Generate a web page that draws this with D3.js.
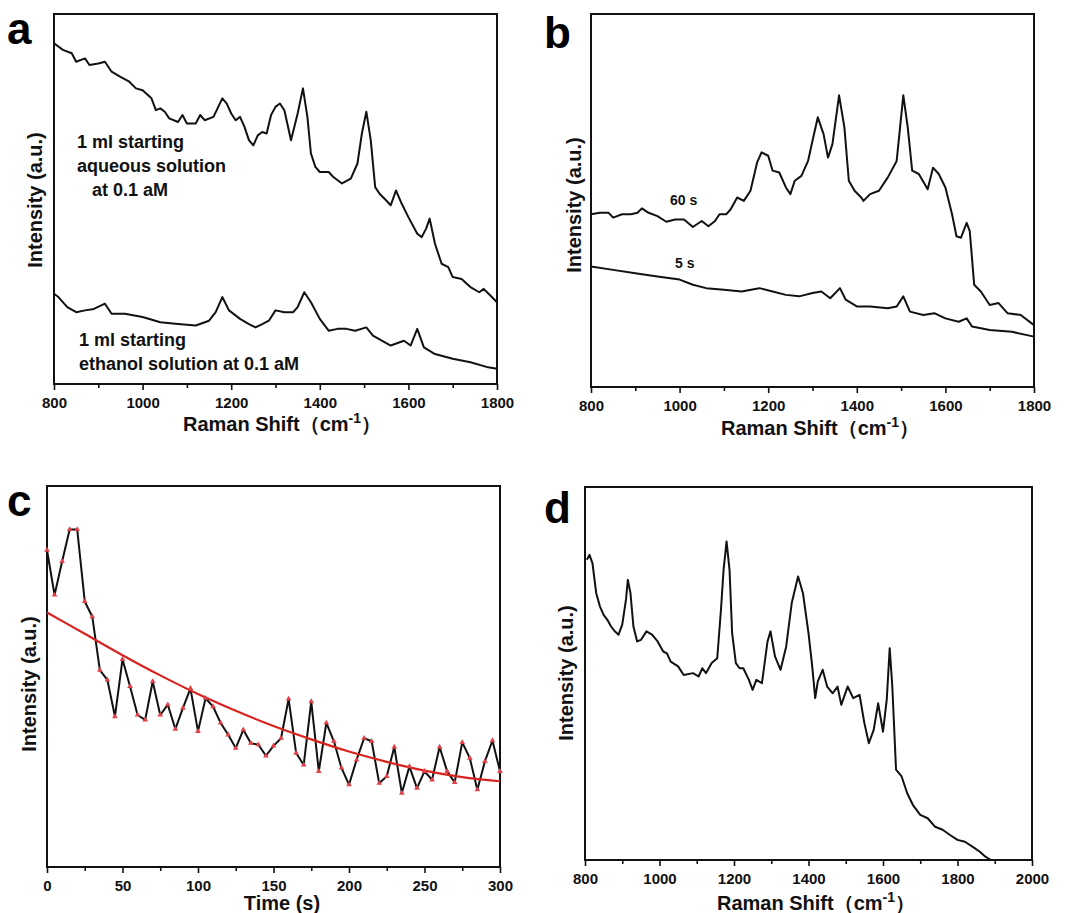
<!DOCTYPE html>
<html><head><meta charset="utf-8">
<script src="https://cdn.jsdelivr.net/npm/d3@7"></script>
<style>body{margin:0;background:#fff}svg{display:block}</style>
</head><body>
<svg id="chart" width="1069" height="913"></svg>
<script>
// ---------- Panel a: Raman spectra, aqueous vs ethanol ----------
const aAqX = [800,820,840,850,870,880,900,915,930,950,970,985,1000,1020,1030,1040,1050,1060,1080,1090,1100,1120,1130,1140,1160,1180,1190,1200,1210,1220,1230,1240,1250,1260,1270,1280,1290,1300,1310,1320,1335,1350,1362,1372,1380,1390,1400,1420,1430,1450,1470,1485,1495,1505,1515,1525,1535,1550,1560,1572,1585,1600,1620,1630,1640,1648,1660,1675,1690,1700,1720,1740,1760,1770,1785,1800];
const aAqY = [92.1,90.3,89.4,87.1,88.0,86.2,86.6,87.1,84.4,83.0,81.7,79.9,79.4,77.2,74.0,74.5,73.6,71.8,70.8,72.7,70.4,70.4,72.7,71.3,72.2,77.2,75.8,73.1,71.3,72.2,69.5,65.9,64.5,67.2,68.1,67.7,72.7,74.9,75.8,74.0,65.9,73.1,79.9,72.2,62.3,58.7,57.3,57.3,56.0,54.2,55.5,59.6,67.7,73.6,65.9,53.2,51.4,49.6,48.3,52.3,48.7,45.1,40.6,39.7,42.0,44.7,37.9,32.5,31.6,28.9,28.4,26.2,24.8,25.7,23.9,22.1];
const aEtX = [800,810,830,850,870,890,915,930,960,1000,1040,1080,1120,1150,1165,1180,1195,1220,1240,1255,1270,1285,1300,1320,1340,1350,1365,1380,1400,1420,1440,1460,1480,1505,1520,1540,1560,1590,1605,1620,1635,1660,1700,1740,1780,1800];
const aEtY = [24.4,23.5,20.8,19.4,19.9,20.3,21.7,19.0,19.0,18.1,16.7,16.2,15.8,17.1,19.4,23.5,19.9,17.6,16.2,15.3,16.2,17.1,19.9,19.4,19.4,20.8,24.8,22.1,17.6,14.4,14.9,14.9,14.4,15.3,13.1,11.7,10.4,11.7,10.4,14.9,9.9,8.1,6.8,5.9,4.5,4.1];
const aLabels = [["1 ml starting", "aqueous solution", "   at 0.1 aM"], ["1 ml starting", "ethanol solution at 0.1 aM"]];

// ---------- Panel b: 60 s vs 5 s ----------
const b60X = [800,820,840,850,870,890,905,915,930,950,970,990,1010,1030,1050,1065,1080,1090,1105,1115,1130,1145,1160,1175,1185,1200,1210,1225,1240,1250,1260,1275,1290,1300,1312,1325,1335,1345,1360,1372,1382,1395,1410,1415,1430,1450,1470,1490,1505,1515,1525,1540,1560,1572,1585,1600,1615,1625,1635,1648,1655,1665,1680,1700,1720,1740,1770,1800];
const b60Y = [46.3,46.7,46.7,45.4,46.3,46.3,46.7,47.9,46.7,45.8,44.3,44.9,44.9,42.9,44.5,43.1,44.5,46.3,46.3,47.6,50.8,49.9,52.6,60.2,62.9,62.0,58.0,57.5,53.5,51.7,55.3,56.6,60.6,66.0,72.3,67.8,61.5,65.1,78.2,69.6,55.3,52.6,50.8,49.9,51.7,52.6,56.2,60.6,78.2,69.6,58.0,57.1,53.0,58.8,57.1,53.5,46.3,40.4,40.0,44.0,41.8,27.4,25.6,22.0,22.5,19.8,19.3,16.6];
const b5X = [800,850,900,950,1000,1030,1060,1100,1140,1180,1210,1240,1270,1300,1320,1340,1362,1375,1400,1430,1470,1490,1505,1520,1550,1575,1600,1630,1648,1660,1700,1750,1800];
const b5Y = [32.3,31.4,30.5,29.6,28.8,27.4,26.5,26.1,25.6,26.5,25.6,24.7,24.3,25.2,25.6,23.8,26.5,23.4,21.6,21.6,21.1,21.6,24.3,20.2,19.3,19.8,18.4,17.5,18.4,16.2,15.3,14.8,13.5];
const bLabels = ["60 s", "5 s"];

// ---------- Panel c: intensity vs time ----------
const cTime = [0,5,10,15,20,25,30,35,40,45,50,55,60,65,70,75,80,85,90,95,100,105,110,115,120,125,130,135,140,145,150,155,160,165,170,175,180,185,190,195,200,205,210,215,220,225,230,235,240,245,250,255,260,265,270,275,280,285,290,295,300];
const cInt = [83.2,71.4,80.2,88.6,88.6,69.7,65.7,51.7,49.1,39.5,54.5,47.4,39.9,38.6,48.7,39.9,42.6,36.2,41.7,46.9,35.6,44.3,42.1,37.8,34.7,31.2,36.0,32.5,32.1,29.2,31.8,33.8,44.1,29.9,26.8,43.4,25.1,37.8,33.0,26.0,21.6,28.1,33.8,33.0,22.0,23.8,31.5,19.4,26.4,20.7,25.1,22.9,31.5,25.1,22.2,32.7,28.6,20.3,27.7,33.2,25.1];
const cFitT = [0,25,50,75,100,125,150,175,200,225,250,275,300];
const cFitY = [66.8,61.2,55.6,50.3,45.4,41.0,37.0,33.5,30.3,27.6,25.3,23.6,22.5];

// ---------- Panel d: single spectrum ----------
const dX = [805,812,820,830,840,850,860,870,880,890,900,910,915,922,930,940,950,965,980,995,1010,1020,1030,1050,1065,1090,1105,1115,1125,1140,1155,1165,1172,1180,1188,1195,1205,1215,1225,1240,1250,1260,1275,1290,1298,1310,1325,1340,1355,1372,1385,1400,1410,1418,1425,1438,1450,1465,1478,1488,1505,1520,1537,1550,1562,1575,1587,1600,1610,1618,1625,1635,1650,1665,1680,1700,1720,1740,1760,1780,1800,1820,1840,1860,1875,1890];
const dY = [80.5,81.8,79.6,71.6,68.0,65.7,64.4,62.6,61.3,60.4,63.1,69.8,75.1,71.6,62.6,58.6,59.0,61.3,60.4,58.6,55.9,55.4,53.2,51.9,49.6,50.1,49.2,51.4,50.1,52.8,54.1,67.1,77.8,85.4,77.8,60.8,52.8,51.4,51.4,48.3,45.6,48.3,47.4,58.6,61.3,54.6,51.0,57.2,68.9,76.0,71.6,60.8,51.9,43.4,47.9,51.0,46.5,44.7,46.5,41.6,46.5,43.4,44.3,36.7,31.3,34.9,42.0,34.4,42.9,56.8,46.5,24.2,22.4,17.9,14.8,12.1,11.2,8.9,8.1,6.7,5.4,4.9,3.6,2.2,0.9,0.0];

// ---------- Axis ticks ----------
const ramanTicksAB = [800,1000,1200,1400,1600,1800];
const ramanMinorAB = [900,1100,1300,1500,1700];
const timeTicks = [0,50,100,150,200,250,300];
const timeMinor = [25,75,125,175,225,275];
const ramanTicksD = [800,1000,1200,1400,1600,1800,2000];
const ramanMinorD = [900,1100,1300,1500,1700,1900];

const FONT = "'Liberation Sans', Arial, Helvetica, sans-serif";
const svg = d3.select("#chart");

function panel(o) {
  const g = svg.append("g");
  const x = d3.scaleLinear().domain(o.xDomain).range([o.left, o.right]);
  const y = d3.scaleLinear().domain([0, 100]).range([o.bottom, o.top]);

  g.append("g").attr("transform", `translate(0,${o.bottom})`)
    .call(d3.axisBottom(x).tickValues(o.minor).tickSize(4).tickFormat(""))
    .call(s => s.select(".domain").remove())
    .call(s => s.selectAll("line").attr("stroke", "#111").attr("stroke-width", 1.6));
  g.append("g").attr("transform", `translate(0,${o.bottom})`)
    .call(d3.axisBottom(x).tickValues(o.ticks).tickSize(6).tickPadding(7).tickFormat(d3.format("d")))
    .call(s => s.select(".domain").remove())
    .call(s => s.selectAll("line").attr("stroke", "#111").attr("stroke-width", 1.6))
    .call(s => s.selectAll("text").attr("fill", "#111").attr("font-family", FONT)
      .attr("font-weight", "bold").attr("font-size", 15));

  g.append("rect").attr("x", o.left).attr("y", o.top)
    .attr("width", o.right - o.left).attr("height", o.bottom - o.top)
    .attr("fill", "none").attr("stroke", "#111").attr("stroke-width", 2);

  g.append("text").attr("x", o.letterX).attr("y", o.letterY).text(o.letter)
    .attr("font-family", FONT).attr("font-weight", "bold").attr("font-size", 44).attr("fill", "#000");

  g.append("text").attr("transform", `translate(${o.yTitleX},${o.yTitleY}) rotate(-90)`)
    .attr("text-anchor", "middle").attr("dominant-baseline", "central")
    .attr("font-family", FONT).attr("font-weight", "bold").attr("font-size", 20).attr("fill", "#111")
    .text("Intensity (a.u.)");

  const xt = g.append("text").attr("x", o.xTitleX).attr("y", o.xTitleY).attr("text-anchor", "middle")
    .attr("font-family", FONT).attr("font-weight", "bold").attr("font-size", 20).attr("fill", "#111");
  if (o.raman) {
    xt.append("tspan").text("Raman Shift\uFF08cm");
    xt.append("tspan").attr("dy", -8).attr("font-size", 14).text("-1");
    xt.append("tspan").attr("dy", 8).text("\uFF09");
  } else {
    xt.text("Time (s)");
  }
  return {g, x, y};
}

function spectrum(p, xs, ys, color, width, curve) {
  const pts = xs.map((v, i) => [v, ys[i]]);
  p.g.append("path").datum(pts)
    .attr("d", d3.line().x(d => p.x(d[0])).y(d => p.y(d[1])).curve(curve || d3.curveLinear))
    .attr("fill", "none").attr("stroke", color).attr("stroke-width", width)
    .attr("stroke-linejoin", "round");
}

function label(p, lines, x, y, size, lh) {
  const t = p.g.append("text").attr("font-family", FONT).attr("font-weight", "bold")
    .attr("font-size", size).attr("fill", "#111").attr("xml:space", "preserve");
  lines.forEach((l, i) => t.append("tspan").attr("x", x).attr("y", y + i * lh).text(l));
}

// Panel a
const pa = panel({left: 54, right: 497, top: 14, bottom: 384, xDomain: [800, 1800],
  ticks: ramanTicksAB, minor: ramanMinorAB, letter: "a", letterX: 7, letterY: 44,
  yTitleX: 35, yTitleY: 200, xTitleX: 282, xTitleY: 431, raman: true});
spectrum(pa, aAqX, aAqY, "#111", 2);
spectrum(pa, aEtX, aEtY, "#111", 2);
label(pa, aLabels[0], 77, 148, 18, 24);
label(pa, aLabels[1], 79, 346, 18, 24);

// Panel b
const pb = panel({left: 591, right: 1034, top: 14, bottom: 387, xDomain: [800, 1800],
  ticks: ramanTicksAB, minor: ramanMinorAB, letter: "b", letterX: 544, letterY: 48,
  yTitleX: 574, yTitleY: 205, xTitleX: 820, xTitleY: 435, raman: true});
spectrum(pb, b60X, b60Y, "#111", 2);
spectrum(pb, b5X, b5Y, "#111", 2);
label(pb, [bLabels[0]], 670, 205, 14, 0);
label(pb, [bLabels[1]], 675, 268, 14, 0);

// Panel c
const pc = panel({left: 47, right: 500, top: 486, bottom: 867, xDomain: [0, 300],
  ticks: timeTicks, minor: timeMinor, letter: "c", letterX: 7, letterY: 516,
  yTitleX: 29, yTitleY: 684, xTitleX: 282, xTitleY: 910, raman: false});
spectrum(pc, cTime, cInt, "#111", 2);
spectrum(pc, cFitT, cFitY, "#d8231f", 2.2, d3.curveMonotoneX);
pc.g.append("g").selectAll("path").data(cTime.map((t, i) => [t, cInt[i]])).join("path")
  .attr("transform", d => `translate(${pc.x(d[0])},${pc.y(d[1])})`)
  .attr("d", d3.symbol(d3.symbolTriangle, 14))
  .attr("fill", "#e0404a");

// Panel d
const pd = panel({left: 585, right: 1032, top: 487, bottom: 860, xDomain: [800, 2000],
  ticks: ramanTicksD, minor: ramanMinorD, letter: "d", letterX: 544, letterY: 523,
  yTitleX: 566, yTitleY: 673, xTitleX: 816, xTitleY: 910, raman: true});
spectrum(pd, dX, dY, "#111", 2);
</script>
</body></html>
